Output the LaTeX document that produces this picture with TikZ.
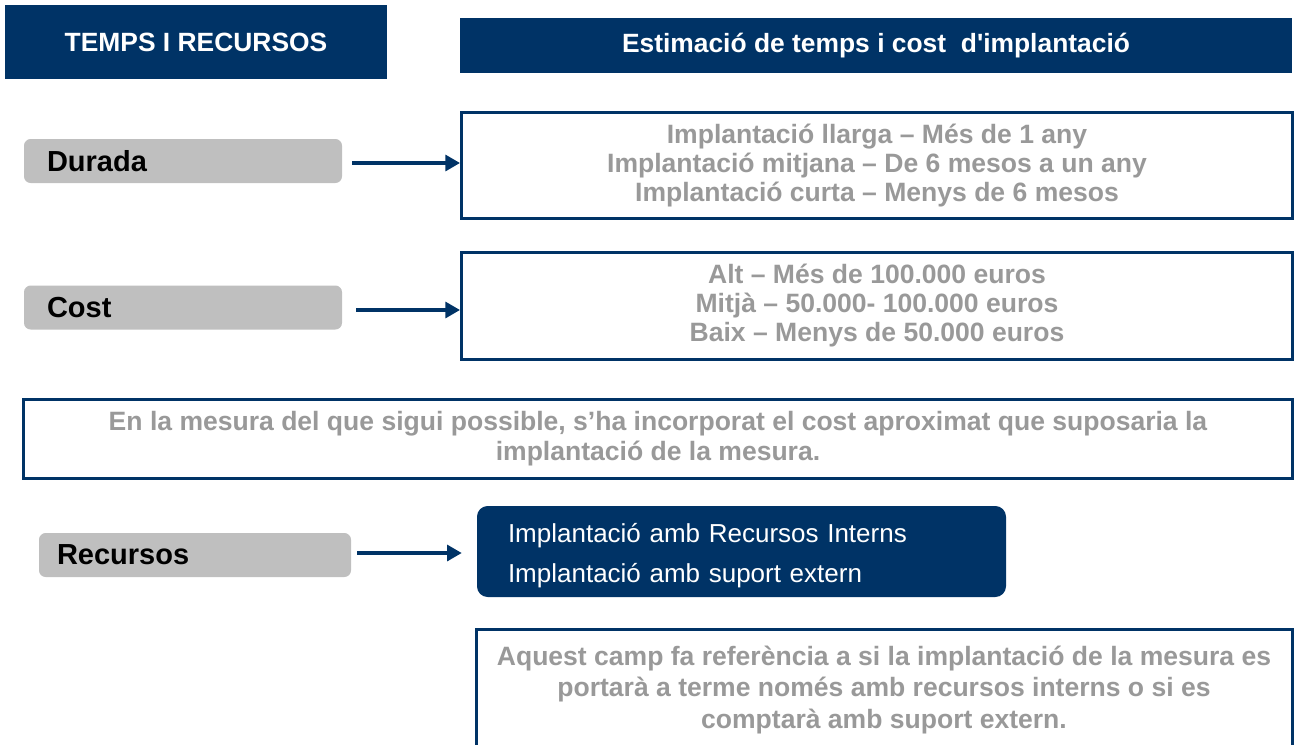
\documentclass[tikz,border=0pt]{standalone}
\usepackage{fontspec}
\setmainfont{Liberation Sans}
\usetikzlibrary{arrows.meta,positioning}

\definecolor{navy}{RGB}{0,51,102}
\definecolor{lgray}{RGB}{191,191,191}
\definecolor{tgray}{RGB}{153,153,153}

\begin{document}
\begin{tikzpicture}[x=0.75pt,y=-0.75pt,
	header/.style={fill=navy,text=white,inner sep=0pt,font=\bfseries\fontsize{19.8}{22}\selectfont},
	label/.style={fill=lgray,rounded corners=5pt,inner xsep=0pt,inner ysep=0pt,align=left,
		minimum height=44*0.75pt,font=\bfseries\fontsize{21.75}{24}\selectfont},
	infobox/.style={draw=navy,line width=2.25pt,fill=white,text=tgray,inner sep=0pt,align=center,
		font=\bfseries\fontsize{19.9}{21.75}\selectfont},
	link/.style={draw=navy,line width=2.4pt,-{Triangle[length=11pt,width=12pt]}}]
\useasboundingbox (0,0) rectangle (1297,744);

% headers
\node[header,minimum width=382*0.75pt,minimum height=74*0.75pt] (hleft) at (196,42) {TEMPS I RECURSOS};
\node[header,minimum width=832*0.75pt,minimum height=55*0.75pt] (hright) at (876,45.5) {Estimació de temps i cost \ d\textquotesingle implantació};

% left labels
\node[label,text width=272*0.75pt,minimum width=318*0.75pt] (durada) at (183,161) {Durada};
\node[label,text width=272*0.75pt,minimum width=318*0.75pt] (cost) at (183,307.5) {Cost};
\node[label,text width=276*0.75pt,minimum width=312*0.75pt] (recursos) at (195,555) {Recursos};

% boxes on the right
\node[infobox,minimum width=831*0.75pt,minimum height=106*0.75pt] (tdurada) at (877,165.5)
	{Implantació llarga – Més de 1 any\\ Implantació mitjana – De 6 mesos a un any\\ Implantació curta – Menys de 6 mesos};
\node[infobox,minimum width=831*0.75pt,minimum height=107*0.75pt] (tcost) at (877,306)
	{Alt – Més de 100.000 euros\\ Mitjà – 50.000- 100.000 euros\\ Baix – Menys de 50.000 euros};
\node[infobox,minimum width=1269*0.75pt,minimum height=79*0.75pt,font=\bfseries\fontsize{19.9}{22.5}\selectfont] (nota) at (658,438.5)
	{En la mesura del que sigui possible, s’ha incorporat el cost aproximat que suposaria la\\ implantació de la mesura.};
\node[fill=navy,text=white,rounded corners=8pt,inner sep=0pt,align=left,text width=467*0.75pt,
	minimum width=529*0.75pt,minimum height=91*0.75pt,font=\fontsize{19.5}{30}\selectfont] (trecursos) at (741.5,551.5)
	{\rule{0pt}{21pt}Implantació amb Recursos Interns\\ Implantació amb suport extern};
\node[infobox,minimum width=816*0.75pt,minimum height=121*0.75pt,font=\bfseries\fontsize{19.9}{23.6}\selectfont] (nrecursos) at (884,690)
	{Aquest camp fa referència a si la implantació de la mesura es\\ portarà a terme només amb recursos interns o si es\\ comptarà amb suport extern.};

% arrows
\draw[link,shorten <=10*0.75pt] (durada.east) ++(0,2) -- (tdurada.west |- 0,163);
\draw[link,shorten <=14*0.75pt] (cost.east) ++(0,2.5) -- (tcost.west |- 0,310);
\draw[link,shorten <=6*0.75pt,shorten >=15*0.75pt] (recursos.east) ++(0,-2) -- (trecursos.west |- 0,553);
\end{tikzpicture}
\end{document}
